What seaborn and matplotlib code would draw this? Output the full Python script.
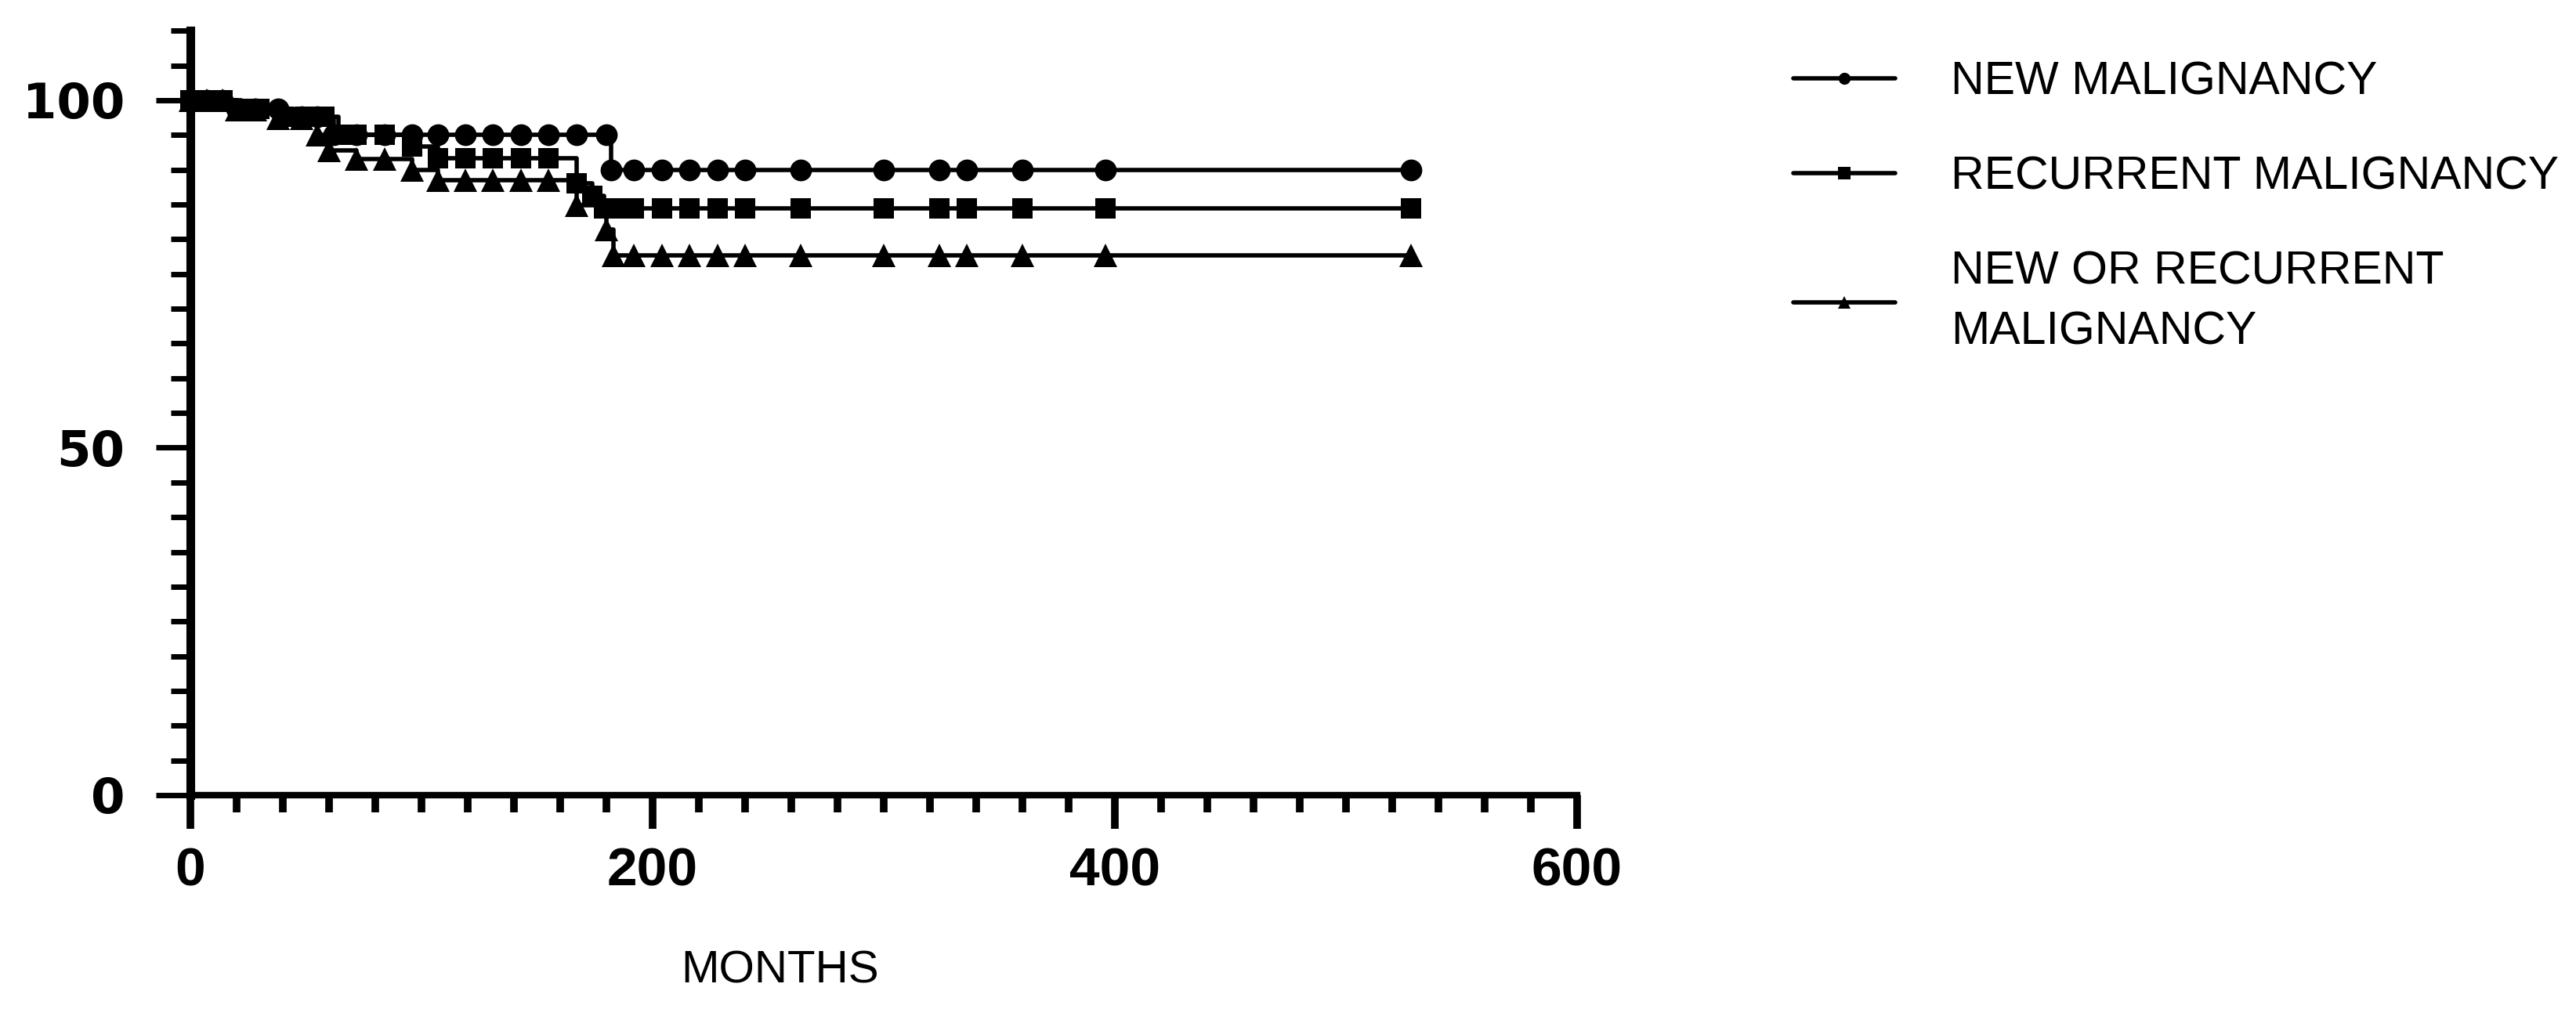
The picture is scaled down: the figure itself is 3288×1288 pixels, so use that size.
import numpy as np
import pandas as pd
import seaborn as sns
import matplotlib
matplotlib.use('Agg')
import matplotlib.pyplot as plt
from matplotlib.ticker import MultipleLocator

# survival curves (months, % free of event)
months_new = [0, 7, 14, 20, 28, 38, 48, 55, 62, 72, 84, 96, 107, 119, 131, 143, 155, 167, 180,
              182, 192, 204, 216, 228, 240, 264, 300, 324, 336, 360, 396, 528]
surv_new = [100, 100, 100, 98.8, 98.8, 98.8, 97.6, 97.6, 95.0, 95.0, 95.0, 95.0, 95.0, 95.0, 95.0, 95.0, 95.0, 95.0, 95.0,
            90.0, 90.0, 90.0, 90.0, 90.0, 90.0, 90.0, 90.0, 90.0, 90.0, 90.0, 90.0, 90.0]

months_rec = [0, 7, 14, 22, 30, 40, 50, 58, 64, 72, 84, 96, 107, 119, 131, 143, 155, 167, 174, 179,
              184, 192, 204, 216, 228, 240, 264, 300, 324, 336, 360, 396, 528]
surv_rec = [100, 100, 100, 98.8, 98.8, 97.6, 97.6, 97.6, 95.0, 95.0, 95.0, 93.4, 91.6, 91.6, 91.6, 91.6, 91.6, 88.0, 86.2, 84.4,
            84.4, 84.4, 84.4, 84.4, 84.4, 84.4, 84.4, 84.4, 84.4, 84.4, 84.4, 84.4, 84.4]

months_nor = [0, 7, 14, 20, 28, 38, 48, 55, 60, 72, 84, 96, 107, 119, 131, 143, 155, 167, 180,
              183, 192, 204, 216, 228, 240, 264, 300, 324, 336, 360, 396, 528]
surv_nor = [100, 100, 100, 98.7, 98.7, 97.4, 97.4, 95.0, 92.8, 91.5, 91.5, 90.0, 88.5, 88.5, 88.5, 88.5, 88.5, 84.9, 81.4,
            77.7, 77.7, 77.7, 77.7, 77.7, 77.7, 77.7, 77.7, 77.7, 77.7, 77.7, 77.7, 77.7]

labels = ['NEW MALIGNANCY', 'RECURRENT MALIGNANCY', 'NEW OR RECURRENT\nMALIGNANCY']

sns.set_style('ticks')
plt.rcParams['font.family'] = ['Liberation Sans', 'DejaVu Sans']
for k in ['axes.edgecolor', 'xtick.color', 'ytick.color', 'text.color', 'axes.labelcolor']:
    plt.rcParams[k] = 'black'

fig = plt.figure(figsize=(32.88, 12.88), dpi=100)
ax = fig.add_axes([0.0739, 0.212, 0.5383, 0.7575])

series = [(months_new, surv_new, 'o', 20), (months_rec, surv_rec, 's', 19), (months_nor, surv_nor, '^', 21)]
for (m, s, mk, ms), lab in zip(series, labels):
    sns.lineplot(x=m, y=s, ax=ax, color='black', lw=4, marker=mk, markersize=ms,
                 markeredgewidth=0, drawstyle='steps-post', label=lab, clip_on=False, zorder=3)

ax.set_xlim(0, 600)
ax.set_ylim(0, 110)
ax.xaxis.set_major_locator(MultipleLocator(200))
ax.xaxis.set_minor_locator(MultipleLocator(20))
ax.set_yticks([0, 50, 100])
ax.yaxis.set_minor_locator(MultipleLocator(5))

for side in ['top', 'right']:
    ax.spines[side].set_visible(False)
ax.spines['left'].set_linewidth(8)
ax.spines['bottom'].set_linewidth(6)

ax.tick_params(axis='x', which='major', length=31, width=7, direction='out', pad=16, labelsize=50)
ax.tick_params(axis='x', which='minor', length=16, width=7, direction='out')
ax.tick_params(axis='y', which='major', length=32, width=5, direction='out', pad=28, labelsize=45)
ax.tick_params(axis='y', which='minor', length=18, width=5, direction='out')
for t in ax.get_xticklabels():
    t.set_fontweight('bold')
for t in ax.get_yticklabels():
    t.set_fontweight('bold')
    t.set_family(['DejaVu Sans'])

ax.set_xlabel('MONTHS', fontsize=42)
ax.xaxis.set_label_coords(0.4254, -0.202)
ax.set_ylabel('')

leg = ax.legend(loc='upper left', bbox_to_anchor=(0.68, 0.981), bbox_transform=fig.transFigure,
                frameon=False, fontsize=42.5, handlelength=2.2, handletextpad=1.2, labelspacing=1.12)
for h in leg.legend_handles:
    h.set_markersize(11)
    h.set_linewidth(4)
for t in leg.get_texts():
    t.set_linespacing(1.5)

fig.savefig('out.png', dpi=100)
